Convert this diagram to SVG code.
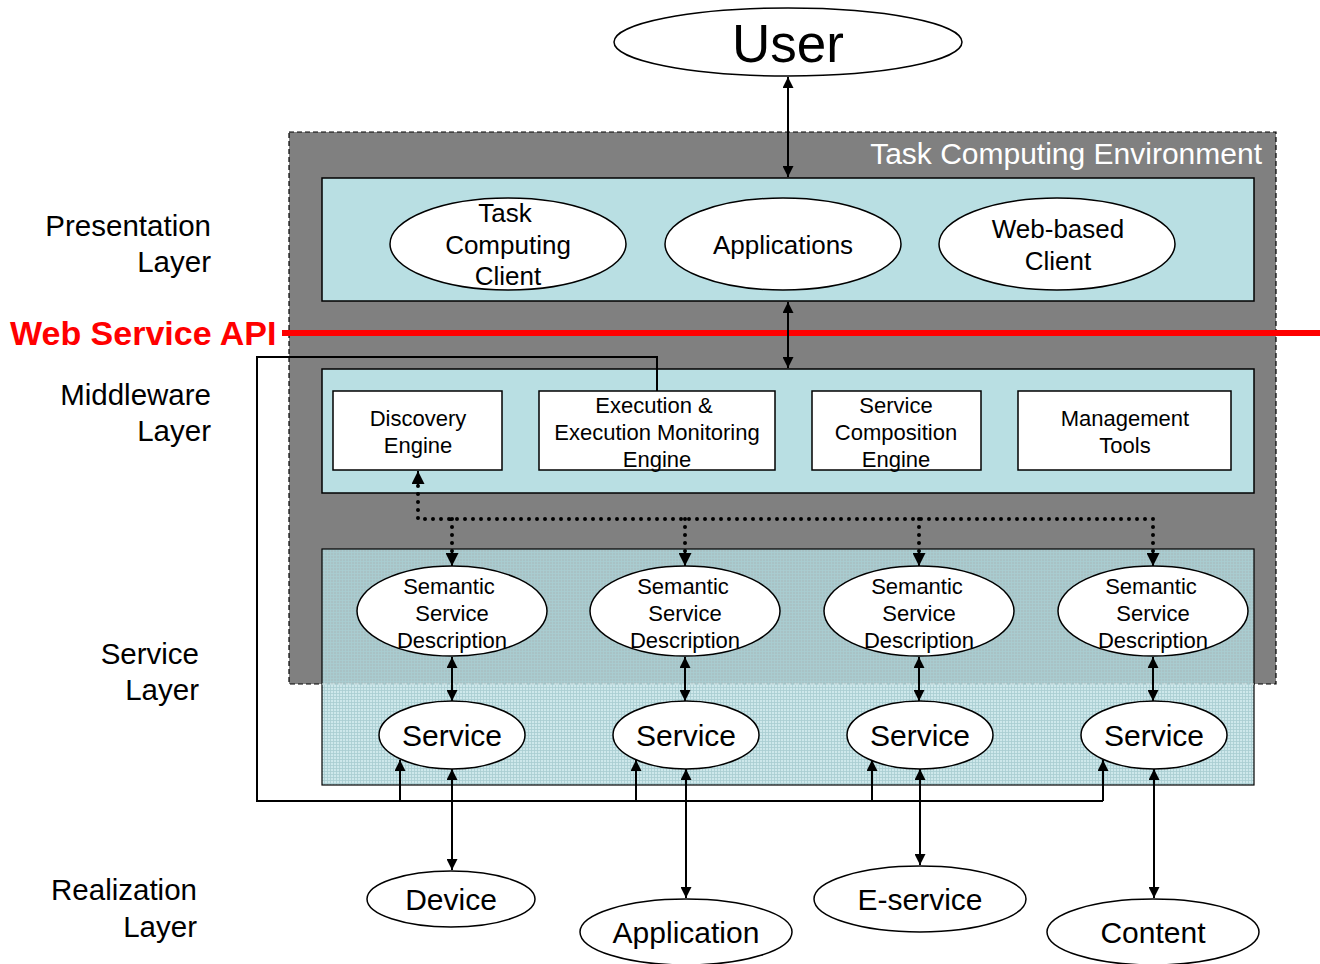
<svg xmlns="http://www.w3.org/2000/svg" width="1320" height="964" viewBox="0 0 1320 964">
<style>
text{font-family:"Liberation Sans",Arial,sans-serif;fill:#000}
.lbl{font-size:29.5px;text-anchor:end}
.c{text-anchor:middle}
.t26{font-size:26px}
.t22{font-size:22px}
.t30{font-size:30px}
.el{fill:#fff;stroke:#000;stroke-width:1.5}
.box{fill:#fff;stroke:#000;stroke-width:1.5}
.band{fill:#b9dfe3;stroke:#000;stroke-width:1.5}
.ln{stroke:#000;stroke-width:2;fill:none}
.dot{stroke:#000;stroke-width:4;fill:none;stroke-linecap:round;stroke-dasharray:0 8}
</style>
<defs>
<marker id="ah" viewBox="0 0 10 10" refX="10" refY="5" markerWidth="11" markerHeight="11" markerUnits="userSpaceOnUse" orient="auto-start-reverse">
<path d="M0,0 L10,5 L0,10 z" fill="#000"/>
</marker>
<marker id="ahs" viewBox="0 0 10 10" refX="10" refY="5" markerWidth="13" markerHeight="13" markerUnits="userSpaceOnUse" orient="auto-start-reverse">
<path d="M0,0 L10,5 L0,10 z" fill="#000"/>
</marker>
<pattern id="grid" width="3" height="3" patternUnits="userSpaceOnUse">
<rect width="3" height="3" fill="#b9dfe3" fill-opacity="0.7"/>
<path d="M0,0.5 H3 M0.5,0 V3" stroke="#a9cdd1" stroke-width="1" stroke-opacity="0.8"/>
</pattern>
</defs>

<g id="tce">
<rect x="289" y="132" width="987" height="552" fill="#808080" stroke="#000" stroke-width="1.2" stroke-dasharray="5 3"/>
<text x="1262" y="164" style="font-size:30px;fill:#fff;text-anchor:end">Task Computing Environment</text>
</g>

<g id="layer-labels">
<text class="lbl" x="211" y="236">Presentation</text>
<text class="lbl" x="211" y="272">Layer</text>
<text class="lbl" x="211" y="405">Middleware</text>
<text class="lbl" x="211" y="441">Layer</text>
<text class="lbl" x="199" y="664">Service</text>
<text class="lbl" x="199" y="700">Layer</text>
<text class="lbl" x="197" y="900">Realization</text>
<text class="lbl" x="197" y="937">Layer</text>
</g>

<g id="user">
<ellipse class="el" cx="788" cy="42" rx="174" ry="34"/>
<text class="c" x="788" y="62" style="font-size:53px">User</text>
</g>

<g id="presentation">
<rect class="band" x="322" y="178" width="932" height="123"/>
</g>
<g id="tc-client">
<ellipse class="el" cx="508" cy="244" rx="118" ry="46"/>
<text class="c t26" x="505" y="222">Task</text>
<text class="c t26" x="508" y="254">Computing</text>
<text class="c t26" x="508" y="285">Client</text>
</g>
<g id="applications">
<ellipse class="el" cx="783" cy="244" rx="118" ry="46"/>
<text class="c t26" x="783" y="254">Applications</text>
</g>
<g id="web-client">
<ellipse class="el" cx="1057" cy="244" rx="118" ry="46"/>
<text class="c t26" x="1058" y="238">Web-based</text>
<text class="c t26" x="1058" y="270">Client</text>
</g>

<g id="wsapi">
<line x1="282" y1="333" x2="1320" y2="333" stroke="#f00" stroke-width="6"/>
<text x="10" y="345" style="font-size:34px;font-weight:bold;fill:#f00">Web Service API</text>
</g>

<g id="middleware">
<rect class="band" x="322" y="369" width="932" height="124"/>
</g>
<g id="discovery">
<rect class="box" x="333" y="391" width="169" height="79"/>
<text class="c t22" x="418" y="426">Discovery</text>
<text class="c t22" x="418" y="453">Engine</text>
</g>
<g id="execution">
<rect class="box" x="539" y="391" width="236" height="79"/>
<text class="c t22" x="654" y="413">Execution &amp;</text>
<text class="c t22" x="657" y="440">Execution Monitoring</text>
<text class="c t22" x="657" y="467">Engine</text>
</g>
<g id="composition">
<rect class="box" x="812" y="391" width="169" height="79"/>
<text class="c t22" x="896" y="413">Service</text>
<text class="c t22" x="896" y="440">Composition</text>
<text class="c t22" x="896" y="467">Engine</text>
</g>
<g id="management">
<rect class="box" x="1018" y="391" width="213" height="79"/>
<text class="c t22" x="1125" y="426">Management</text>
<text class="c t22" x="1125" y="453">Tools</text>
</g>

<g id="service-layer">
<rect x="322" y="549" width="932" height="236" fill="url(#grid)" stroke="#000" stroke-width="1.2"/>
<line x1="322" y1="684" x2="1254" y2="684" stroke="#e0f0f2" stroke-width="1" stroke-dasharray="5 3"/>
</g>

<g id="ssd1"><ellipse class="el" cx="452" cy="611" rx="95" ry="45"/>
<text class="c t22" x="449" y="594">Semantic</text><text class="c t22" x="452" y="621">Service</text><text class="c t22" x="452" y="648">Description</text></g>
<g id="ssd2"><ellipse class="el" cx="685" cy="611" rx="95" ry="45"/>
<text class="c t22" x="683" y="594">Semantic</text><text class="c t22" x="685" y="621">Service</text><text class="c t22" x="685" y="648">Description</text></g>
<g id="ssd3"><ellipse class="el" cx="919" cy="611" rx="95" ry="45"/>
<text class="c t22" x="917" y="594">Semantic</text><text class="c t22" x="919" y="621">Service</text><text class="c t22" x="919" y="648">Description</text></g>
<g id="ssd4"><ellipse class="el" cx="1153" cy="611" rx="95" ry="45"/>
<text class="c t22" x="1151" y="594">Semantic</text><text class="c t22" x="1153" y="621">Service</text><text class="c t22" x="1153" y="648">Description</text></g>

<g id="svc1"><ellipse class="el" cx="452" cy="735" rx="73" ry="34"/><text class="c t30" x="452" y="746">Service</text></g>
<g id="svc2"><ellipse class="el" cx="686" cy="735" rx="73" ry="34"/><text class="c t30" x="686" y="746">Service</text></g>
<g id="svc3"><ellipse class="el" cx="920" cy="735" rx="73" ry="34"/><text class="c t30" x="920" y="746">Service</text></g>
<g id="svc4"><ellipse class="el" cx="1154" cy="735" rx="73" ry="34"/><text class="c t30" x="1154" y="746">Service</text></g>

<g id="device"><ellipse class="el" cx="451" cy="899" rx="84" ry="28"/><text class="c t30" x="451" y="910">Device</text></g>
<g id="application"><ellipse class="el" cx="686" cy="932" rx="106" ry="33"/><text class="c t30" x="686" y="943">Application</text></g>
<g id="eservice"><ellipse class="el" cx="920" cy="899" rx="106" ry="33"/><text class="c t30" x="920" y="910">E-service</text></g>
<g id="content"><ellipse class="el" cx="1153" cy="932" rx="106" ry="33"/><text class="c t30" x="1153" y="943">Content</text></g>

<g id="connectors">
<line class="ln" x1="788" y1="77" x2="788" y2="177" marker-start="url(#ah)" marker-end="url(#ah)"/>
<line class="ln" x1="788" y1="302" x2="788" y2="368" marker-start="url(#ah)" marker-end="url(#ah)"/>
<polyline class="ln" points="657,391 657,357 257,357 257,801 1103,801"/>
<line class="ln" x1="400" y1="801" x2="400" y2="760" marker-end="url(#ah)"/>
<line class="ln" x1="636" y1="801" x2="636" y2="760" marker-end="url(#ah)"/>
<line class="ln" x1="872" y1="801" x2="872" y2="760" marker-end="url(#ah)"/>
<line class="ln" x1="1103" y1="801" x2="1103" y2="760" marker-end="url(#ah)"/>
<path class="dot" d="M418,486 V519 H1153 M452,519 V552 M685,519 V552 M919,519 V552 M1153,519 V552"/>
<line class="ln" x1="418" y1="486" x2="418" y2="471" marker-end="url(#ahs)"/>
<line class="ln" x1="452" y1="552" x2="452" y2="566" marker-end="url(#ahs)"/>
<line class="ln" x1="685" y1="552" x2="685" y2="566" marker-end="url(#ahs)"/>
<line class="ln" x1="919" y1="552" x2="919" y2="566" marker-end="url(#ahs)"/>
<line class="ln" x1="1153" y1="552" x2="1153" y2="566" marker-end="url(#ahs)"/>
<line class="ln" x1="452" y1="657" x2="452" y2="701" marker-start="url(#ah)" marker-end="url(#ah)"/>
<line class="ln" x1="685" y1="657" x2="685" y2="701" marker-start="url(#ah)" marker-end="url(#ah)"/>
<line class="ln" x1="919" y1="657" x2="919" y2="701" marker-start="url(#ah)" marker-end="url(#ah)"/>
<line class="ln" x1="1153" y1="657" x2="1153" y2="701" marker-start="url(#ah)" marker-end="url(#ah)"/>
<line class="ln" x1="452" y1="769" x2="452" y2="870" marker-start="url(#ah)" marker-end="url(#ah)"/>
<line class="ln" x1="686" y1="769" x2="686" y2="898" marker-start="url(#ah)" marker-end="url(#ah)"/>
<line class="ln" x1="920" y1="769" x2="920" y2="865" marker-start="url(#ah)" marker-end="url(#ah)"/>
<line class="ln" x1="1154" y1="769" x2="1154" y2="898" marker-start="url(#ah)" marker-end="url(#ah)"/>
</g>
</svg>
